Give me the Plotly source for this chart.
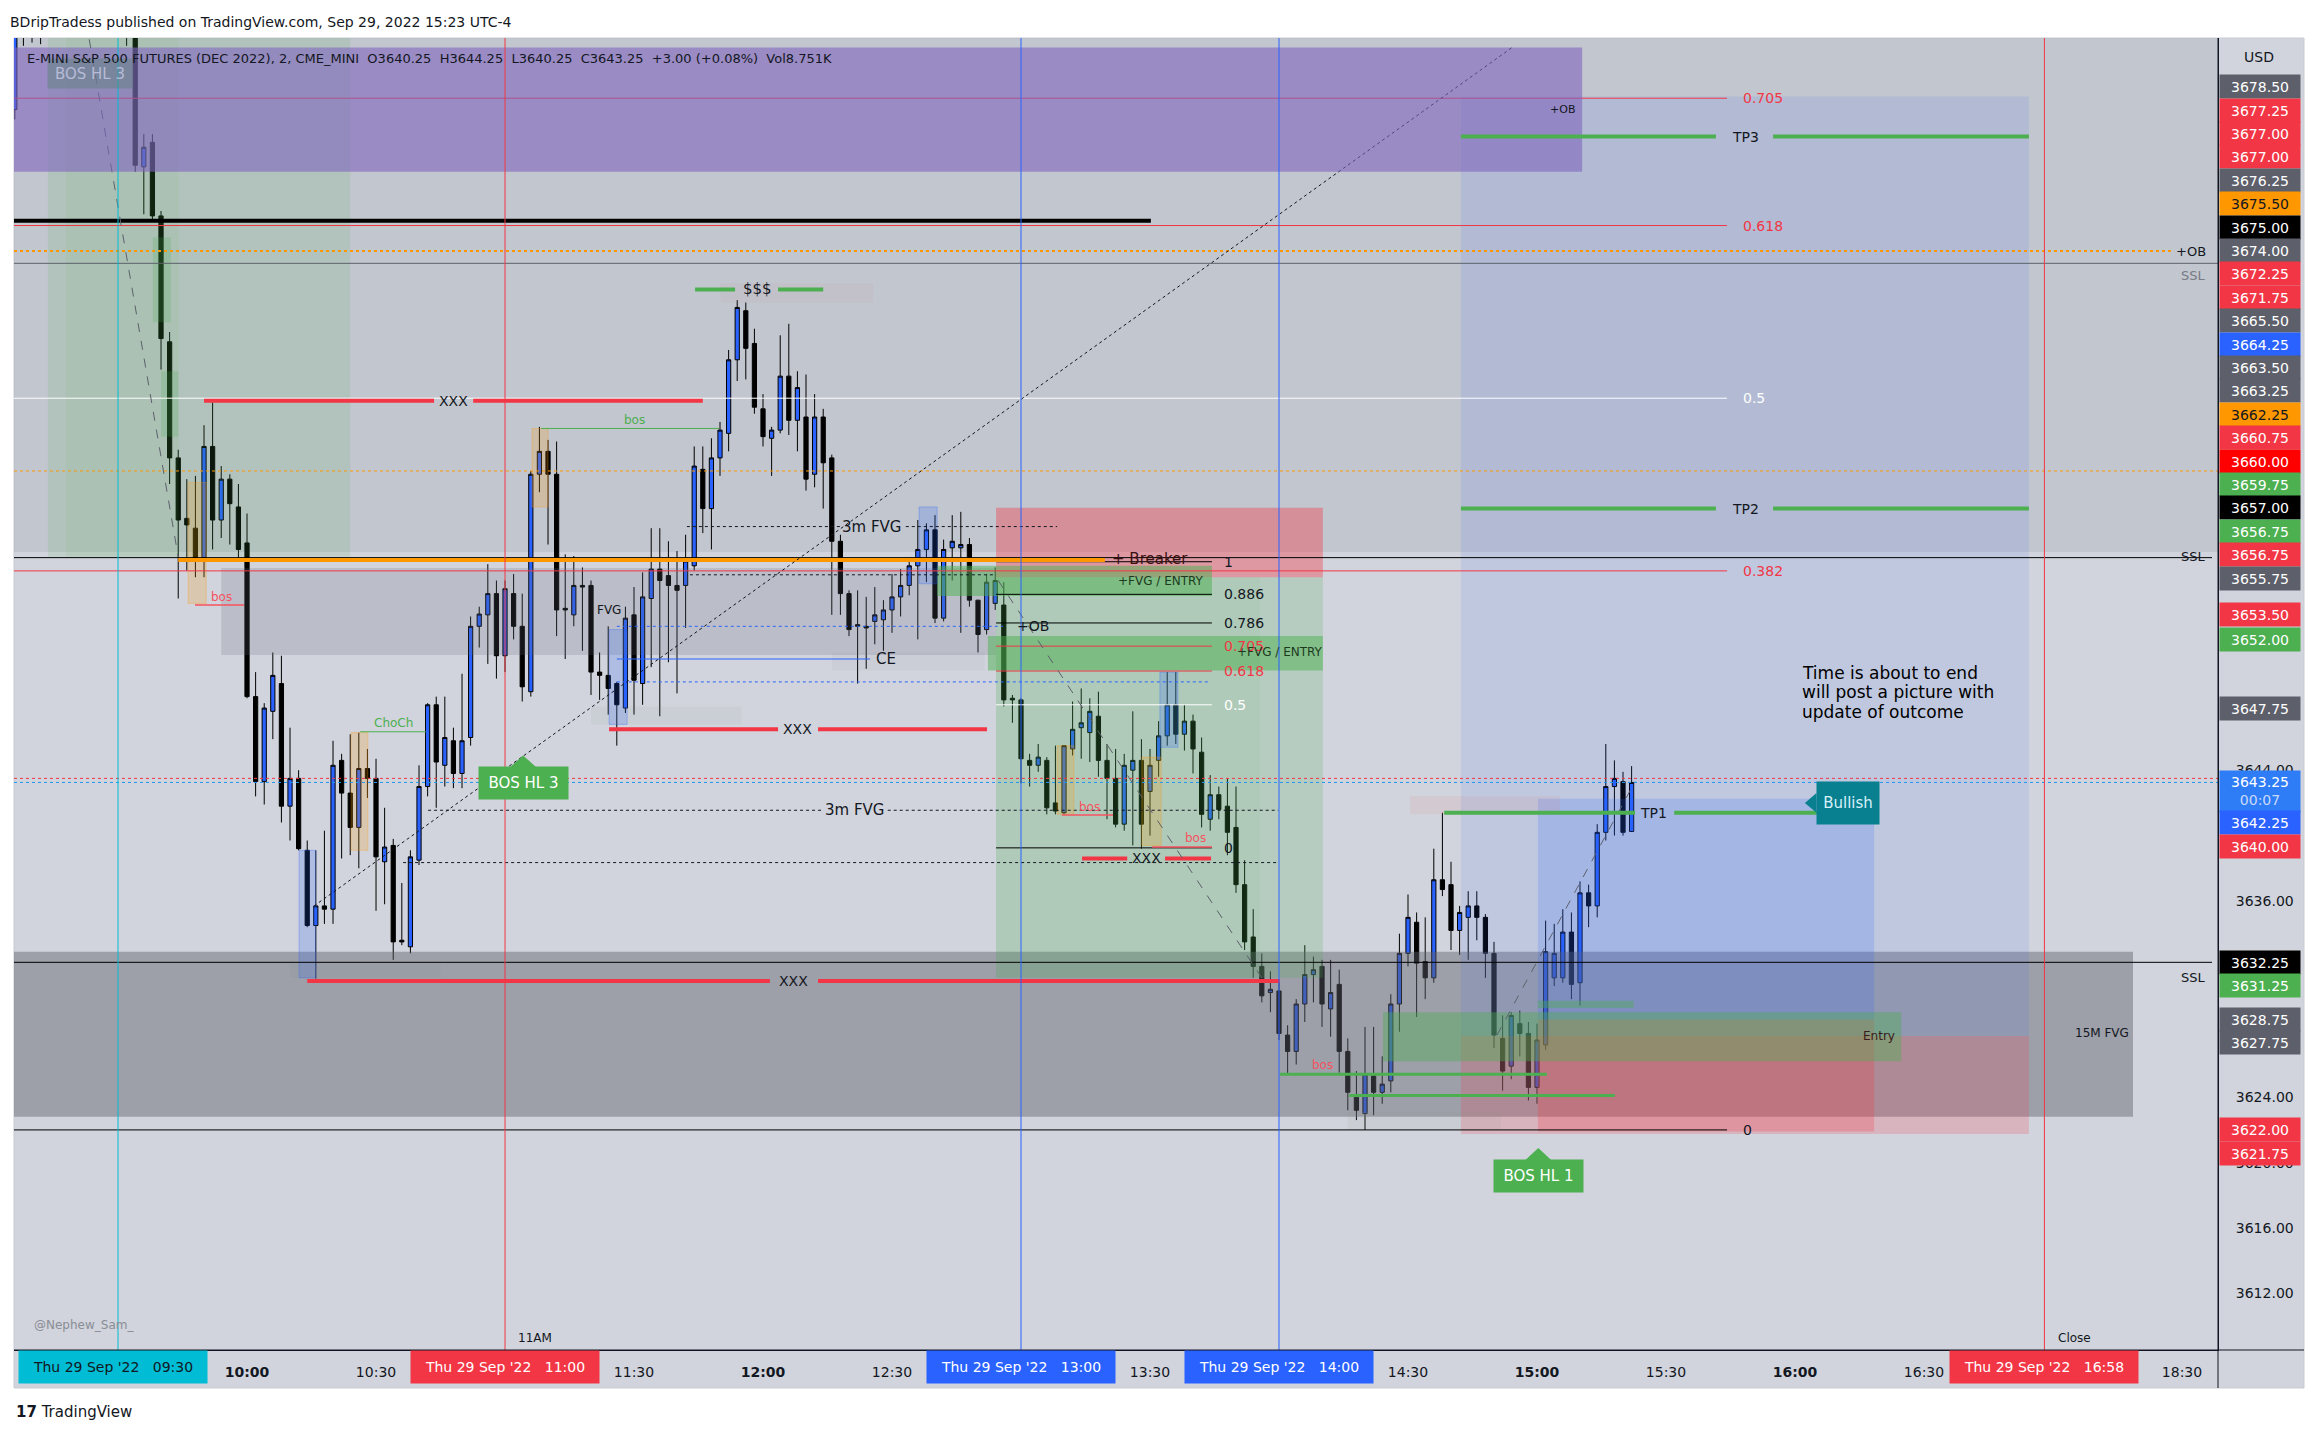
import plotly.graph_objects as go

# ---------------- data (2-minute bars, x = minutes after 09:30) ----------------
bar_minute = list(range(-24, 353, 2))
bar_open = [
    3684.4, 3690.8, 3692.0, 3690.5, 3691.6, 3693.5, 3692.2, 3693.0, 3695.2, 3693.4,
    3692.0, 3693.8, 3692.5, 3690.0, 3691.5, 3680.9, 3682.4, 3677.9, 3670.2, 3663.1,
    3659.4, 3658.8, 3657.0, 3663.8, 3659.3, 3661.8, 3660.1, 3657.9, 3648.5, 3643.3,
    3647.6, 3649.3, 3641.8, 3643.5, 3639.1, 3634.5, 3635.7, 3635.5, 3644.6, 3642.6,
    3640.5, 3644.1, 3643.5, 3638.4, 3639.4, 3633.6, 3633.2, 3638.5, 3643.0, 3648.0,
    3644.3, 3645.8, 3643.8, 3646.0, 3652.8, 3653.5, 3654.8, 3651.0, 3654.8, 3652.8,
    3648.8, 3662.1, 3663.5, 3662.1, 3653.9, 3653.5, 3655.3, 3655.3, 3650.0, 3649.8,
    3649.3, 3647.8, 3653.5, 3649.3, 3654.5, 3656.3, 3655.9, 3655.3, 3655.3, 3656.5,
    3662.4, 3660.0, 3663.1, 3664.6, 3669.1, 3672.1, 3670.1, 3666.1, 3664.3, 3664.8,
    3668.1, 3665.4, 3665.6, 3662.1, 3665.6, 3663.1, 3658.0, 3654.8, 3652.9, 3652.8,
    3653.1, 3653.2, 3653.8, 3654.6, 3655.3, 3656.5, 3657.5, 3658.7, 3653.3, 3657.6,
    3657.6, 3657.8, 3654.4, 3652.6, 3654.2, 3654.1, 3648.4, 3648.3, 3644.6, 3644.3,
    3644.6, 3642.0, 3641.4, 3645.3, 3646.6, 3646.3, 3647.3, 3644.6, 3643.5, 3640.7,
    3644.0, 3644.6, 3642.7, 3644.6, 3646.1, 3648.0, 3646.2, 3647.0, 3645.1, 3641.0,
    3642.5, 3641.8, 3640.5, 3637.0, 3633.8, 3632.0, 3630.4, 3630.5, 3627.8, 3626.8,
    3629.7, 3631.5, 3632.0, 3629.4, 3630.9, 3626.8, 3624.0, 3623.0, 3625.3, 3624.3,
    3625.0, 3629.7, 3632.8, 3634.7, 3632.3, 3631.3, 3637.3, 3637.0, 3634.2, 3635.0,
    3635.7, 3635.0, 3632.8, 3627.6, 3625.9, 3628.5, 3627.9, 3624.6, 3627.2, 3631.3,
    3631.3, 3634.1, 3631.0, 3636.5, 3635.7, 3640.2, 3643.0, 3643.3, 3640.25]
bar_high = [
    3691.5, 3693.0, 3694.0, 3692.5, 3694.2, 3695.0, 3694.0, 3696.0, 3696.5, 3695.0,
    3694.5, 3695.5, 3694.0, 3693.0, 3692.5, 3682.9, 3682.9, 3678.2, 3670.8, 3663.6,
    3661.8, 3662.0, 3665.1, 3666.5, 3662.6, 3662.1, 3661.5, 3659.7, 3650.0, 3648.1,
    3651.2, 3651.0, 3646.6, 3644.0, 3639.7, 3639.1, 3640.3, 3645.8, 3645.0, 3646.2,
    3646.3, 3645.3, 3644.7, 3641.7, 3639.8, 3637.1, 3639.1, 3644.3, 3648.1, 3648.5,
    3648.5, 3646.6, 3649.9, 3653.4, 3654.0, 3656.6, 3655.6, 3655.6, 3656.0, 3654.8,
    3662.3, 3665.0, 3664.2, 3664.1, 3657.2, 3657.1, 3656.4, 3655.6, 3651.2, 3652.8,
    3649.4, 3654.0, 3655.2, 3656.1, 3658.8, 3658.8, 3658.0, 3657.4, 3658.4, 3663.8,
    3663.8, 3664.3, 3665.3, 3669.7, 3672.75, 3672.6, 3671.0, 3667.0, 3665.0, 3670.6,
    3671.3, 3668.4, 3668.2, 3667.0, 3666.1, 3663.3, 3658.4, 3655.0, 3655.0, 3654.6,
    3655.2, 3654.4, 3656.0, 3656.3, 3657.0, 3659.3, 3659.1, 3659.6, 3658.1, 3659.6,
    3659.8, 3658.2, 3654.4, 3656.0, 3656.4, 3655.5, 3648.6, 3648.4, 3645.0, 3645.6,
    3644.8, 3645.5, 3645.5, 3648.2, 3649.0, 3648.4, 3648.8, 3645.6, 3645.3, 3645.0,
    3647.6, 3645.9, 3645.3, 3647.0, 3650.0, 3650.0, 3648.0, 3647.4, 3646.0, 3643.7,
    3643.0, 3643.5, 3643.0, 3638.5, 3635.5, 3632.8, 3631.7, 3631.0, 3628.4, 3630.0,
    3633.3, 3632.6, 3632.4, 3632.4, 3631.8, 3627.6, 3625.6, 3628.3, 3628.3, 3626.5,
    3630.3, 3634.0, 3636.4, 3635.3, 3635.0, 3639.2, 3641.4, 3638.4, 3635.7, 3636.6,
    3636.6, 3635.2, 3633.5, 3629.0, 3629.2, 3629.3, 3628.6, 3628.5, 3634.8, 3634.6,
    3635.5, 3635.3, 3637.2, 3637.0, 3640.7, 3645.6, 3644.6, 3643.9, 3644.25]
bar_low = [
    3683.8, 3688.3, 3688.5, 3688.4, 3690.2, 3691.0, 3690.0, 3691.5, 3692.5, 3691.0,
    3690.5, 3691.0, 3689.2, 3688.3, 3680.6, 3678.0, 3677.6, 3668.5, 3661.5, 3654.5,
    3656.2, 3655.8, 3655.8, 3657.5, 3658.2, 3657.8, 3656.8, 3648.4, 3642.4, 3641.9,
    3645.9, 3640.8, 3639.7, 3639.1, 3634.4, 3631.25, 3634.6, 3634.6, 3638.6, 3638.8,
    3638.0, 3642.3, 3635.4, 3635.8, 3632.4, 3633.3, 3632.8, 3638.2, 3642.4, 3641.7,
    3643.0, 3642.9, 3642.9, 3645.5, 3651.5, 3650.5, 3649.6, 3650.0, 3652.0, 3648.2,
    3648.5, 3661.0, 3657.8, 3652.2, 3650.8, 3652.8, 3651.3, 3648.6, 3648.3, 3647.4,
    3645.5, 3647.5, 3647.4, 3648.0, 3650.3, 3647.3, 3650.6, 3648.7, 3652.7, 3656.2,
    3658.5, 3657.5, 3662.0, 3663.5, 3667.8, 3667.9, 3665.8, 3663.8, 3662.0, 3664.6,
    3664.5, 3663.5, 3661.1, 3661.3, 3660.0, 3653.5, 3653.5, 3652.2, 3649.3, 3650.2,
    3651.7, 3651.3, 3652.4, 3653.4, 3654.7, 3652.0, 3655.5, 3653.0, 3653.1, 3655.6,
    3652.4, 3654.0, 3651.2, 3652.3, 3653.8, 3647.9, 3646.9, 3643.2, 3643.0, 3643.9,
    3641.3, 3641.3, 3641.3, 3644.9, 3644.7, 3644.5, 3643.6, 3641.0, 3640.5, 3640.3,
    3639.4, 3639.2, 3640.0, 3643.6, 3645.5, 3645.6, 3645.2, 3643.8, 3640.5, 3640.3,
    3641.0, 3638.8, 3636.5, 3633.0, 3631.3, 3629.8, 3629.2, 3627.5, 3625.4, 3626.0,
    3628.6, 3629.8, 3628.3, 3627.7, 3625.5, 3623.2, 3622.6, 3622.0, 3622.9, 3623.6,
    3624.3, 3628.0, 3632.0, 3628.9, 3630.0, 3631.0, 3636.3, 3633.0, 3632.7, 3632.4,
    3633.6, 3631.3, 3627.0, 3624.4, 3625.1, 3626.5, 3623.8, 3623.6, 3626.9, 3630.8,
    3631.0, 3630.0, 3629.6, 3634.4, 3635.0, 3639.7, 3640.0, 3640.0, 3640.25]
bar_close = [
    3690.8, 3692.0, 3690.5, 3691.6, 3693.5, 3692.2, 3693.0, 3695.2, 3693.4, 3692.0,
    3693.8, 3692.5, 3690.0, 3691.5, 3681.0, 3682.1, 3677.9, 3670.4, 3663.1, 3659.3,
    3659.0, 3657.0, 3663.8, 3659.3, 3661.8, 3660.3, 3657.5, 3648.5, 3643.3, 3647.8,
    3649.8, 3641.8, 3643.5, 3639.2, 3634.5, 3635.7, 3635.5, 3644.3, 3642.6, 3640.5,
    3644.1, 3643.5, 3638.7, 3639.3, 3633.5, 3633.5, 3638.7, 3643.0, 3648.0, 3644.5,
    3646.0, 3643.8, 3645.8, 3652.8, 3653.55, 3654.8, 3651.0, 3655.1, 3652.8, 3649.1,
    3662.1, 3663.5, 3662.1, 3653.8, 3653.8, 3655.3, 3655.2, 3650.0, 3649.8, 3649.0,
    3648.0, 3653.3, 3649.5, 3654.6, 3656.3, 3655.6, 3655.3, 3655.0, 3656.8, 3662.6,
    3660.0, 3663.1, 3664.8, 3669.1, 3672.3, 3669.8, 3666.2, 3664.4, 3664.8, 3668.1,
    3665.4, 3667.4, 3661.8, 3665.6, 3662.8, 3658.0, 3654.8, 3652.6, 3652.8, 3652.7,
    3653.5, 3653.8, 3654.6, 3655.3, 3656.5, 3657.5, 3658.7, 3653.3, 3657.5, 3658.0,
    3657.8, 3654.4, 3652.3, 3655.5, 3655.6, 3648.3, 3648.3, 3644.7, 3644.3, 3644.8,
    3641.7, 3641.5, 3645.5, 3646.5, 3646.9, 3647.6, 3644.6, 3643.5, 3640.7, 3644.3,
    3644.6, 3640.7, 3644.3, 3646.1, 3648.0, 3646.2, 3647.0, 3645.3, 3641.3, 3642.5,
    3641.6, 3640.2, 3637.0, 3633.5, 3632.0, 3630.2, 3630.6, 3627.9, 3626.8, 3629.7,
    3631.5, 3631.8, 3629.7, 3630.4, 3626.8, 3624.3, 3623.2, 3625.4, 3624.3, 3624.8,
    3629.7, 3632.8, 3635.0, 3632.2, 3631.3, 3637.3, 3636.7, 3634.2, 3635.3, 3635.7,
    3635.0, 3632.8, 3627.8, 3625.6, 3629.0, 3627.9, 3624.6, 3627.5, 3632.9, 3632.8,
    3634.1, 3630.9, 3636.5, 3635.7, 3640.2, 3643.0, 3643.5, 3640.2, 3643.25]

time_tick_minute = [30, 60, 120, 150, 180, 240, 300, 330, 360, 390, 420, 480]
time_tick_label = ["<b>10:00</b>", "10:30", "11:30", "<b>12:00</b>", "12:30", "13:30",
                   "14:30", "<b>15:00</b>", "15:30", "<b>16:00</b>", "16:30", "18:30"]
date_box_minute = [0, 90, 210, 270, 448]
date_box_label = ["Thu 29 Sep '22   09:30", "Thu 29 Sep '22   11:00", "Thu 29 Sep '22   13:00",
                  "Thu 29 Sep '22   14:00", "Thu 29 Sep '22   16:58"]
date_box_color = ["#00BCD4", "#F23645", "#2962FF", "#2962FF", "#F23645"]
date_box_text = ["#131722", "#FFFFFF", "#FFFFFF", "#FFFFFF", "#FFFFFF"]

price_tick_value = [3612, 3616, 3620, 3624, 3636, 3644]
price_label_value = [3678.50, 3677.25, 3677.00, 3677.00, 3676.25, 3675.50, 3675.00, 3674.00,
                     3672.25, 3671.75, 3665.50, 3664.25, 3663.50, 3663.25, 3662.25, 3660.75,
                     3660.00, 3659.75, 3657.00, 3656.75, 3656.75, 3655.75, 3653.50, 3652.00,
                     3647.75, 3643.25, 3642.25, 3640.00, 3632.25, 3631.25, 3628.75, 3627.75,
                     3622.00, 3621.75]
price_label_color = ["#5D606B", "#F23645", "#F23645", "#F23645", "#5D606B", "#FF9800", "#000000", "#5D606B",
                     "#F23645", "#F23645", "#5D606B", "#2962FF", "#5D606B", "#5D606B", "#FF9800", "#F23645",
                     "#FF0000", "#4CAF50", "#000000", "#4CAF50", "#F23645", "#5D606B", "#F23645", "#4CAF50",
                     "#5D606B", "#2E7CF6", "#2962FF", "#F23645", "#000000", "#4CAF50", "#5D606B", "#5D606B",
                     "#F23645", "#F23645"]
current_price = 3643.25
countdown = "00:07"
note_lines = ["Time is about to end", "will post a picture with", "update of outcome"]

# ---------------- layout geometry ----------------
W, H = 2319, 1437
ML, MR, MT, MB = 14, 101, 38, 87
PW, PH = W - ML - MR, H - MT - MB
X_RANGE = [-24.19, 488.37]
Y_RANGE = [3608.54, 3688.78]
XL, XR = X_RANGE
YT = Y_RANGE[1]
PX_PER_PT = PH / (Y_RANGE[1] - Y_RANGE[0])
FONT = "DejaVu Sans"


def py_of(p):
    return MT + (Y_RANGE[1] - p) * PX_PER_PT


def paper_x(px):
    return (px - ML) / PW


def paper_y(py):
    return 1 - (py - MT) / PH


shapes, ann = [], []


def rect(m0, m1, p0, p1, fill, layer="above", lc="rgba(0,0,0,0)", lw=0):
    shapes.append(dict(type="rect", xref="x", yref="y", x0=m0, x1=m1, y0=p0, y1=p1,
                       fillcolor=fill, line=dict(color=lc, width=lw), layer=layer))


def seg(m0, m1, p0, p1, color, width=1, dash="solid"):
    shapes.append(dict(type="line", xref="x", yref="y", x0=m0, x1=m1, y0=p0, y1=p1,
                       line=dict(color=color, width=width, dash=dash), layer="above"))


def hfull(p, color, width=1, dash="solid", x1=1.0):
    shapes.append(dict(type="line", xref="paper", yref="y", x0=0, x1=x1, y0=p, y1=p,
                       line=dict(color=color, width=width, dash=dash), layer="above"))


def vline(m, color):
    shapes.append(dict(type="line", xref="x", yref="paper", x0=m, x1=m, y0=0, y1=1,
                       line=dict(color=color, width=1), layer="above"))


def label(m, p, text, color="#131722", size=14, xanchor="center", **kw):
    ann.append(dict(x=m, y=p, xref="x", yref="y", text=text, showarrow=False,
                    xanchor=xanchor, yanchor="middle", font=dict(size=size, color=color, family=FONT), **kw))


def tri(points, color):
    path = "M " + " L ".join(f"{a},{b}" for a, b in points) + " Z"
    shapes.append(dict(type="path", xref="x", yref="y", path=path, fillcolor=color,
                       line=dict(width=0), layer="above"))


# panel background / frame
shapes.append(dict(type="rect", xref="paper", yref="paper", x0=paper_x(14), x1=paper_x(2304),
                   y0=paper_y(1388), y1=paper_y(38), fillcolor="#D1D4DC",
                   line=dict(color="#C8CBD3", width=1), layer="below"))

# upper darker band
rect(XL, XR, 3657.35, YT, "rgba(93,96,107,0.12)", layer="below")

# zones
rect(-16.3, 54.0, 3657.05, YT, "rgba(76,175,80,0.13)")
rect(-12.1, 14.1, 3657.05, YT, "rgba(76,175,80,0.08)")
rect(8.1, 12.3, 3671.4, 3676.6, "rgba(76,175,80,0.2)")
rect(10.0, 14.0, 3664.4, 3668.4, "rgba(76,175,80,0.2)")
rect(24.0, 204.2, 3651.05, 3656.37, "rgba(100,105,120,0.2)")
rect(XL, 468.6, 3622.8, 3632.9, "rgba(93,96,107,0.45)")
rect(204.2, 280.2, 3631.3, 3655.8, "rgba(76,175,80,0.2)")
rect(204.2, 265.6, 3631.3, 3655.8, "rgba(76,175,80,0.06)")
rect(204.2, 280.2, 3655.8, 3660.05, "rgba(242,54,69,0.38)")
rect(190.5, 254.4, 3654.65, 3656.5, "rgba(76,175,80,0.5)")
rect(202.3, 280.2, 3650.1, 3652.2, "rgba(76,175,80,0.5)")
# position tools
rect(312.3, 444.4, 3627.75, 3685.2, "rgba(41,98,255,0.10)")
rect(312.3, 444.4, 3621.75, 3627.75, "rgba(242,54,69,0.2)")
rect(330.2, 408.4, 3628.75, 3642.25, "rgba(41,98,255,0.18)")
rect(330.2, 408.4, 3621.9, 3628.75, "rgba(242,54,69,0.25)")
rect(294.2, 414.7, 3626.2, 3629.2, "rgba(76,175,80,0.4)")
rect(330.2, 352.5, 3629.45, 3629.9, "rgba(76,175,80,0.4)")
# FVG boxes
for a, b, c, d in [(42.1, 46.0, 3631.3, 3639.1), (114.2, 118.4, 3646.8, 3652.6),
                   (186.3, 190.5, 3655.4, 3660.1), (242.3, 246.5, 3645.4, 3650.0)]:
    rect(a, b, c, d, "rgba(41,98,255,0.2)", lc="rgba(41,98,255,0.3)", lw=1)
for a, b, c, d in [(16.3, 20.5, 3654.2, 3661.6), (96.3, 100.0, 3660.1, 3664.9), (54.2, 58.1, 3639.1, 3646.3),
                   (218.4, 222.3, 3641.3, 3645.5), (238.1, 242.6, 3639.4, 3644.8)]:
    rect(a, b, c, d, "rgba(255,152,0,0.2)", lc="rgba(255,152,0,0.3)", lw=1)
for a, b, c, d, f in [(140.2, 175.6, 3672.6, 3673.8, "rgba(200,150,160,0.12)"),
                      (166.0, 201.6, 3650.1, 3651.2, "rgba(120,120,130,0.06)"),
                      (110.0, 145.0, 3646.8, 3647.9, "rgba(120,140,125,0.07)"),
                      (40.0, 75.0, 3631.3, 3632.3, "rgba(120,140,125,0.07)"),
                      (300.5, 335.3, 3641.3, 3642.4, "rgba(220,140,150,0.15)"),
                      (286.0, 321.6, 3622.0, 3623.1, "rgba(150,160,150,0.1)")]:
    rect(a, b, c, d, f)

# horizontal level lines
hfull(3675.0, "#5D606B", 1)
hfull(3675.75, "#FF9800", 2, "dot", x1=paper_x(2172))
hfull(3662.3, "#FF9800", 1, "dot")
hfull(3657.0, "#000000", 1, x1=paper_x(2212))
hfull(3643.5, "#F23645", 1, "dot")
hfull(3643.25, "#2196F3", 1, "dot")
hfull(3632.25, "#000000", 1, x1=paper_x(2212))
seg(XL, 240.2, 3677.6, 3677.6, "#000000", 4)

# right fibonacci
fib_r0, fib_r1 = 3622.0, 3711.5
for lvl, col in [(0.705, "#F23645"), (0.618, "#F23645"), (0.5, "#FFFFFF"), (0.382, "#F23645"), (0, "#000000")]:
    p = fib_r0 + lvl * (fib_r1 - fib_r0)
    seg(XL, 374.2, p, p, col, 1)
    label(377.4, p, ("0" if lvl == 0 else f"{lvl:g}"), "#131722" if lvl == 0 else col, 14, xanchor="left")

# middle fibonacci
fib_m0, fib_m1 = 3639.25, 3656.75
for lvl, col, tcol in [(1, "#000000", "#131722"), (0.886, "#000000", "#131722"), (0.786, "#000000", "#131722"),
                       (0.705, "#F23645", "#F23645"), (0.618, "#F23645", "#F23645"), (0.5, "#FFFFFF", "#FFFFFF"),
                       (0, "#000000", "#131722")]:
    p = fib_m0 + lvl * (fib_m1 - fib_m0)
    seg(204.2, 254.4, p, p, col, 1)
    label(256.7, p, f"{lvl:g}", tcol, 14, xanchor="left")

seg(14.0, 229.5, 3656.85, 3656.85, "#FF9800", 4)

# XXX lines
for a, b, p in [(20, 73.5, 3666.6), (82.6, 136, 3666.6), (114.2, 153.5, 3646.5), (162.8, 202.1, 3646.5),
                (224.2, 234.7, 3638.6), (243.5, 254.2, 3638.6), (44, 151.6, 3631.1), (162.8, 270.2, 3631.1)]:
    seg(a, b, p, p, "#F23645", 4)
seg(98.4, 139.8, 3664.9, 3664.9, "#4CAF50", 1)
seg(56.3, 71.6, 3646.35, 3646.35, "#4CAF50", 1)
for a, b, p in [(17.9, 29.3, 3654.1), (219.5, 231.4, 3641.26), (240.5, 254.4, 3639.3)]:
    seg(a, b, p, p, "#F7525F", 1.5)
# dotted
seg(132.3, 167.9, 3658.9, 3658.9, "#131722", 1, "dot")
seg(183.2, 218.4, 3658.9, 3658.9, "#131722", 1, "dot")
seg(72.1, 163.5, 3641.55, 3641.55, "#131722", 1, "dot")
seg(179.0, 269.8, 3641.55, 3641.55, "#131722", 1, "dot")
seg(66.3, 269.8, 3638.35, 3638.35, "#131722", 1, "dot")
seg(133.0, 204.2, 3655.95, 3655.95, "#131722", 1, "dot")
seg(116, 205.8, 3652.8, 3652.8, "#2962FF", 1, "dot")
seg(116, 174.9, 3650.8, 3650.8, "#2962FF", 1)
seg(116, 254, 3649.4, 3649.4, "#2962FF", 1, "dot")
seg(45.6, 324.2, 3635.7, 3688.2, "#131722", 1, "dot")
seg(-6.7, 14, 3688.7, 3657.05, "#5D606B", 1, "dash")
seg(204.7, 266, 3655.6, 3631.3, "#5D606B", 1, "dash")
seg(320.7, 352.8, 3627.8, 3643.3, "#5D606B", 1, "dash")

# purple order block
rect(XL, 340.5, 3680.6, 3688.2, "rgba(126,100,190,0.6)")

# green target / liquidity lines (drawn over the purple block)
for a, b, p, w in [(134.2, 143.5, 3673.4, 4), (153.5, 164, 3673.4, 4), (312.3, 371.6, 3682.75, 4),
                   (384.9, 444.4, 3682.75, 4), (312.3, 371.6, 3660.0, 4), (384.9, 444.4, 3660.0, 4),
                   (308.4, 352.8, 3641.4, 4), (361.9, 406, 3641.4, 4), (270.2, 332.3, 3625.4, 3),
                   (286.3, 348.1, 3624.1, 3)]:
    seg(a, b, p, p, "#4CAF50", w)

# vertical session lines
vline(0, "#00BCD4")
vline(90, "#F23645")
vline(210, "#2962FF")
vline(270, "#2962FF")
vline(448, "#F23645")

# axes frame extensions
shapes.append(dict(type="line", xref="paper", yref="paper", x0=paper_x(14), x1=paper_x(2304),
                   y0=0, y1=0, line=dict(color="#131722", width=1), layer="above"))
shapes.append(dict(type="line", xref="paper", yref="paper", x0=1, x1=1,
                   y0=paper_y(1388), y1=paper_y(38), line=dict(color="#131722", width=1), layer="above"))

# text labels on chart
for m, p in [(78.1, 3666.6), (158.1, 3646.5), (239.1, 3638.6), (157.2, 3631.1)]:
    label(m, p, "XXX", "#131722", 14)
label(148.8, 3673.4, "$$$", "#131722", 15)
label(120.2, 3665.4, "bos", "#4CAF50", 12)
label(64.0, 3646.9, "ChoCh", "#4CAF50", 12)
for m, p in [(24.0, 3654.6), (226.0, 3641.75), (250.5, 3639.85), (280.0, 3626.0)]:
    label(m, p, "bos", "#F7525F", 12)
label(114.1, 3653.8, "FVG", "#131722", 12)
label(175.3, 3658.9, "3m FVG", "#131722", 15)
label(171.2, 3641.55, "3m FVG", "#131722", 15)
label(178.6, 3650.8, "CE", "#131722", 15)
label(212.8, 3652.8, "+OB", "#131722", 14)
label(240.0, 3656.9, "+ Breaker", "#3B1010", 15)
label(242.6, 3655.6, "+FVG / ENTRY", "#1E3A1E", 12)
label(270.2, 3651.25, "+FVG / ENTRY", "#1E3A1E", 12)
label(378.4, 3682.75, "TP3", "#131722", 14)
label(378.4, 3660.0, "TP2", "#131722", 14)
label(357.2, 3641.4, "TP1", "#131722", 14)
label(336.0, 3684.4, "+OB", "#131722", 11)
label(409.5, 3627.75, "Entry", "#3A1A1A", 12)
label(461.4, 3627.9, "15M FVG", "#131722", 12)
for k, line_txt in enumerate(note_lines):
    label(391.2, 3649.97 - k * 1.19, line_txt, "#000000", 17, xanchor="left")
label(97.0, 3609.3, "11AM", "#131722", 12)
label(455.0, 3609.3, "Close", "#131722", 12)
label(-20.0, 3610.07, "@Nephew_Sam_", "#8A8D96", 12, xanchor="left")

# badge labels
label(94.3, 3643.22, "BOS HL 3", "#FFFFFF", 15, bgcolor="#4CAF50", width=85, height=27.6, borderpad=2)
tri([(91.2, 3644.2), (97.2, 3644.2), (94.2, 3644.9)], "#4CAF50")
label(330.3, 3619.18, "BOS HL 1", "#FFFFFF", 15, bgcolor="#4CAF50", width=85, height=27.6, borderpad=2)
tri([(327.3, 3620.16), (333.3, 3620.16), (330.3, 3620.9)], "#4CAF50")
label(402.3, 3642.0, "Bullish", "#D8F0F8", 15, bgcolor="#088090", width=58, height=38, borderpad=2)
tri([(395.0, 3642.6), (395.0, 3641.4), (392.3, 3642.0)], "#088090")
label(-6.5, 3686.6, "BOS HL 3", "rgba(205,205,235,0.75)", 15, bgcolor="rgba(95,130,125,0.5)",
      width=80, height=25, borderpad=2)

# right-edge level labels
for py, txt, col in [(252, "+OB", "#131722"), (275.5, "SSL", "#787B86"), (557, "SSL", "#131722"), (977, "SSL", "#131722")]:
    ann.append(dict(x=1, y=paper_y(py), xref="paper", yref="paper", text=txt, showarrow=False,
                    xanchor="right", yanchor="middle", xshift=-10, font=dict(size=13, color=col, family=FONT)))

# price scale labels (stacked like TradingView)
LH = 23.4
TWO = 40.5
cur = price_label_value.index(current_price)
centers = [0.0] * len(price_label_value)
cur_top = py_of(current_price) - LH / 2
centers[cur] = cur_top + TWO / 2
prev = cur_top
for i in range(cur - 1, -1, -1):
    bottom = min(py_of(price_label_value[i]) + LH / 2, prev)
    centers[i] = bottom - LH / 2
    prev = bottom - LH
prev = cur_top + TWO
for i in range(cur + 1, len(price_label_value)):
    top = max(py_of(price_label_value[i]) - LH / 2, prev)
    centers[i] = top + LH / 2
    prev = top + LH
for i, (v, c) in enumerate(zip(price_label_value, price_label_color)):
    txt = f"{v:.2f}"
    tc = "#131722" if c == "#FF9800" else "#FFFFFF"
    h = LH - 4
    if i == cur:
        txt = f"{v:.2f}<br><span style='color:#C9DAFB'>{countdown}</span>"
        h = TWO - 4
    ann.append(dict(x=1, y=paper_y(centers[i]), xref="paper", yref="paper", text=txt, showarrow=False,
                    xanchor="left", yanchor="middle", xshift=1, width=76, height=h, borderpad=2,
                    bgcolor=c, font=dict(size=14, color=tc, family=FONT)))
ann.append(dict(x=1, y=paper_y(57), xref="paper", yref="paper", text="USD", showarrow=False,
                xanchor="left", yanchor="middle", xshift=24, font=dict(size=14, color="#131722", family=FONT)))

# time scale highlighted boxes
for m, t, bg, tc in zip(date_box_minute, date_box_label, date_box_color, date_box_text):
    ann.append(dict(x=m, y=0, xref="x", yref="paper", text=t, showarrow=False, xanchor="center",
                    yanchor="top", xshift=(-5 if m == 0 else 0), width=184, height=28, borderpad=2,
                    bgcolor=bg, font=dict(size=14, color=tc, family=FONT)))

# page texts
ann.append(dict(x=paper_x(8), y=paper_y(22), xref="paper", yref="paper", showarrow=False, xanchor="left",
                yanchor="middle", text="BDripTradess published on TradingView.com, Sep 29, 2022 15:23 UTC-4",
                font=dict(size=14, color="#131722", family=FONT)))
ann.append(dict(x=paper_x(25), y=paper_y(59), xref="paper", yref="paper", showarrow=False, xanchor="left",
                yanchor="middle",
                text="E-MINI S&amp;P 500 FUTURES (DEC 2022), 2, CME_MINI  O3640.25  H3644.25  L3640.25  "
                     "C3643.25  +3.00 (+0.08%)  Vol8.751K",
                font=dict(size=13, color="#131722", family=FONT)))
ann.append(dict(x=paper_x(14), y=paper_y(1412), xref="paper", yref="paper", showarrow=False, xanchor="left",
                yanchor="middle", text="<b>17</b> TradingView", font=dict(size=15, color="#131722", family=FONT)))

fig = go.Figure(go.Candlestick(
    x=bar_minute, open=bar_open, high=bar_high, low=bar_low, close=bar_close,
    increasing=dict(fillcolor="#2962FF", line=dict(color="#000000", width=1)),
    decreasing=dict(fillcolor="#000000", line=dict(color="#000000", width=1)),
    whiskerwidth=0, hoverinfo="skip"))

fig.update_layout(
    width=W, height=H, margin=dict(l=ML, r=MR, t=MT, b=MB, autoexpand=False),
    paper_bgcolor="#FFFFFF", plot_bgcolor="#D1D4DC", showlegend=False, hovermode=False,
    font=dict(family=FONT, color="#131722"),
    shapes=shapes, annotations=ann,
    xaxis=dict(range=X_RANGE, tickvals=time_tick_minute, ticktext=time_tick_label, showgrid=False,
               zeroline=False, showline=True, linecolor="#131722", ticks="", rangeslider=dict(visible=False),
               tickfont=dict(size=14, color="#131722", family=FONT), ticklabelstandoff=9, fixedrange=True),
    yaxis=dict(range=Y_RANGE, side="right", tickvals=price_tick_value,
               ticktext=[f"{v:.2f}" for v in price_tick_value], showgrid=False, zeroline=False,
               showline=True, linecolor="#131722", ticks="", ticklabelstandoff=14,
               tickfont=dict(size=14, color="#131722", family=FONT), fixedrange=True),
)

fig.write_html("out.html", config={"displayModeBar": False},
               post_script="document.body.style.margin='0';document.body.style.overflow='hidden';")
